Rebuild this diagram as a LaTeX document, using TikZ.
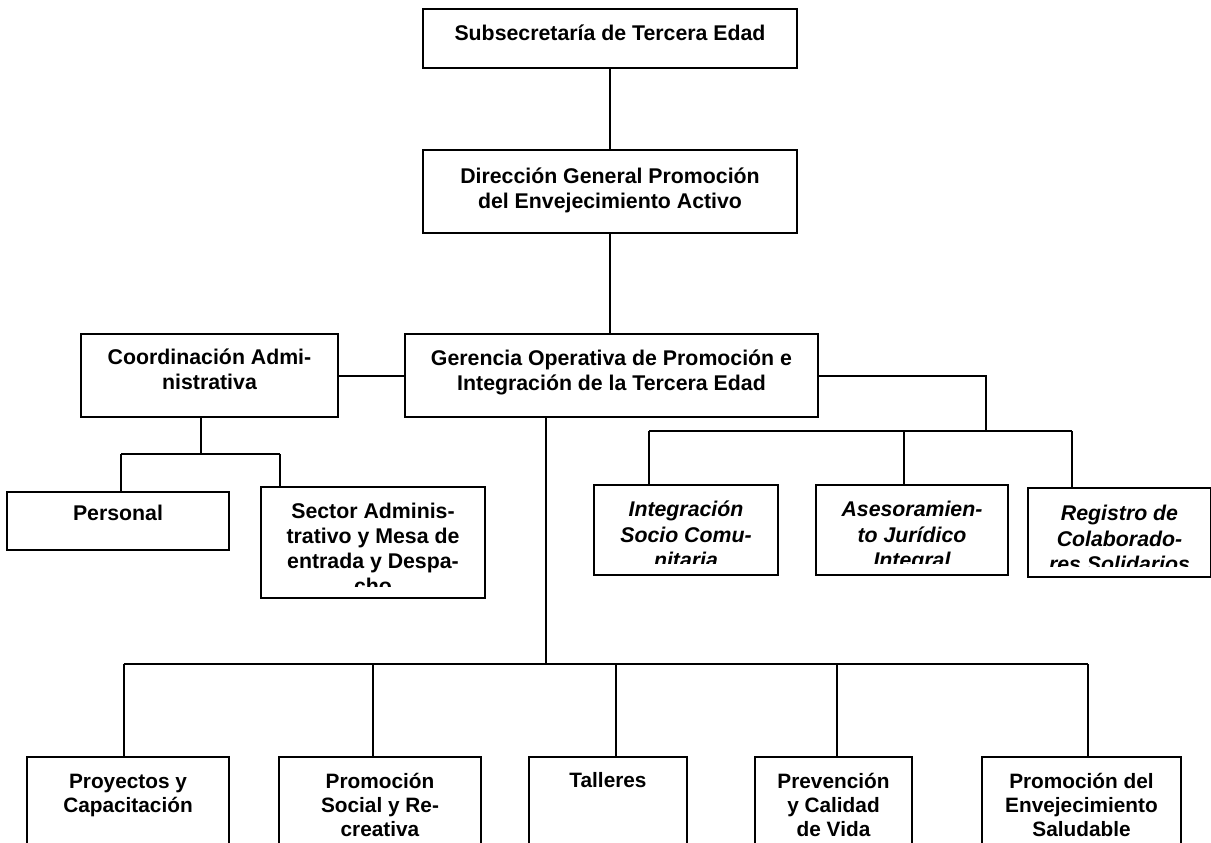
\documentclass[tikz,border=0pt]{standalone}
\usepackage{fontspec}
\setmainfont{Liberation Sans}

\newcommand{\boxlines}[4][31]{\parbox[c][#3pt][t]{#2pt}{\centering\rule{0pt}{#1pt}#4}}

\begin{document}
\begin{tikzpicture}[x=1pt,y=-1pt,frame/.style={draw,line width=2.4pt},box/.style={frame,inner sep=0pt,font=\fontsize{21.3}{25}\selectfont\bfseries},unit/.style={box,font=\fontsize{21.3}{25.5}\selectfont\bfseries\itshape},low/.style={box,font=\fontsize{20.8}{24}\selectfont\bfseries},link/.style={line width=2pt}]

            \useasboundingbox (0,0) rectangle (1211,843);
            \clip (0,0) rectangle (1211,843);

            \node[box]  (sub)   at (610,38.5)    {\boxlines[31.5]{374}{59}{Subsecretaría de Tercera Edad}};
            \node[box]  (dir)   at (610,191.5)   {\boxlines[33]{374}{83}{Dirección General Promoción\\del Envejecimiento Activo}};
            \node[box]  (coord) at (209.5,375.5) {\boxlines[30]{257}{83}{Coordinación Admi-\\nistrativa}};
            \node[box]  (ger)   at (611.5,375.5) {\boxlines{413}{83}{Gerencia Operativa de Promoción e\\Integración de la Tercera Edad}};
            \node[box]  (pers)  at (118,521)     {\boxlines[28.5]{222}{58}{Personal}};

            \begin{scope}
                \clip (262,488) rectangle (484,586);
                \node[box,draw=none] (sect) at (373,542.5) {\boxlines[30.5]{222}{109}{Sector Adminis-\\trativo y Mesa de\\entrada y Despa-\\cho}};
            \end{scope}
            \begin{scope}
                \clip (595,486) rectangle (777,563);
                \node[unit,draw=none] (integ) at (686,530) {\boxlines[30.5]{182}{88}{Integración\\Socio Comu-\\nitaria}};
            \end{scope}
            \begin{scope}
                \clip (817,486) rectangle (1007,563);
                \node[unit,draw=none] (ases) at (912,530) {\boxlines[30.5]{190}{88}{Asesoramien-\\to Jurídico\\Integral}};
            \end{scope}
            \begin{scope}
                \clip (1029,489) rectangle (1210,566);
                \node[unit,draw=none] (regis) at (1119.5,532.5) {\boxlines[31.5]{181}{87}{Registro de\\Colaborado-\\res Solidarios}};
            \end{scope}
            \draw[frame] (sect.north west) rectangle (sect.south east);
            \draw[frame] (integ.north west) rectangle (integ.south east);
            \draw[frame] (ases.north west) rectangle (ases.south east);
            \draw[frame] (regis.north west) rectangle (regis.south east);

            \node[low]  (proy) at (128,818.5)    {\boxlines[31.5]{202}{123}{Proyectos y\\Capacitación}};
            \node[low]  (psoc) at (380,818.5)    {\boxlines[31.5]{202}{123}{Promoción\\Social y Re-\\creativa}};
            \node[low]  (tall) at (608,818.5)    {\boxlines[30.5]{158}{123}{Talleres}};
            \node[low]  (prev) at (833.5,818.5)  {\boxlines[31.5]{157}{123}{Prevención\\y Calidad\\de Vida}};
            \node[low]  (penv) at (1081.5,818.5) {\boxlines[31.5]{199}{123}{Promoción del\\Envejecimiento\\Saludable}};

            \coordinate (rb) at (985.7,431);
            \coordinate (r1) at (649,431);
            \coordinate (r2) at (904.3,431);
            \coordinate (r3) at (1071.7,431);
            \coordinate (cb) at (201,454);
            \coordinate (c1) at (121,454);
            \coordinate (c2) at (280,454);
            \coordinate (gb) at (545.7,664);
            \coordinate (g1) at (123.5,664);
            \coordinate (g2) at (372.6,664);
            \coordinate (g3) at (615.7,664);
            \coordinate (g4) at (836.7,664);
            \coordinate (g5) at (1087.7,664);

            \path[link]
                (sub) edge (dir)
                (coord) edge (ger)
            ;
            \draw[link] (dir.south) -- (dir.south |- ger.north);
            \draw[link] (ger.east) -| (rb);
            \draw[link] (r1) -- (r3);
            \foreach \c/\b in {r1/integ,r2/ases,r3/regis}
                \draw[link] (\c) -- (\c |- \b.north);
            \draw[link] (cb |- coord.south) -- (cb);
            \draw[link] (c1) -- (c2);
            \foreach \c/\b in {c1/pers,c2/sect}
                \draw[link] (\c) -- (\c |- \b.north);
            \draw[link] (gb |- ger.south) -- (gb);
            \draw[link] (g1) -- (g5);
            \foreach \c/\b in {g1/proy,g2/psoc,g3/tall,g4/prev,g5/penv}
                \draw[link] (\c) -- (\c |- \b.north);
        \end{tikzpicture}
\end{document}
